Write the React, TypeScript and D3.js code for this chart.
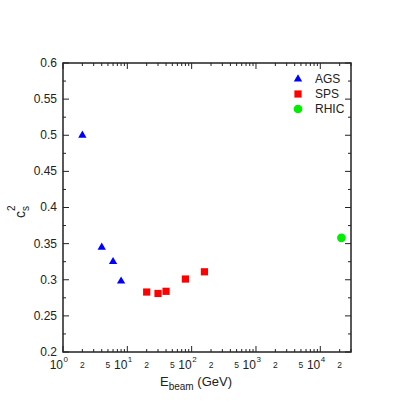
import React from 'react'
import * as d3 from 'd3'

// AGS, SPS and RHIC points
const agsE = [2, 4, 6, 8]
const agsCs2 = [0.5, 0.345, 0.325, 0.298]
const spsE = [20, 30, 40, 80, 158]
const spsCs2 = [0.283, 0.281, 0.284, 0.301, 0.311]
const rhicE = [21300]
const rhicCs2 = [0.358]

const yTicks = [0.2, 0.25, 0.3, 0.35, 0.4, 0.45, 0.5, 0.55, 0.6]
const yTickLabels = ['0.2', '0.25', '0.3', '0.35', '0.4', '0.45', '0.5', '0.55', '0.6']
const decades = [0, 1, 2, 3, 4]
const legendNames = ['AGS', 'SPS', 'RHIC']

const W = 415, H = 415
const left = 63, right = 351, top = 63, bottom = 352
const font = 'Liberation Sans, Arial, sans-serif'

export default function App() {
  const x = d3.scaleLog().domain([1, 30000]).range([left, right])
  const y = d3.scaleLinear().domain([0.2, 0.6]).range([bottom, top])

  const tri = d3.symbol().type(d3.symbolTriangle).size(30)()
  const sq = d3.symbol().type(d3.symbolSquare).size(52)()
  const circ = d3.symbol().type(d3.symbolCircle).size(60)()

  // log ticks: every 1..9 x 10^k inside the domain
  const xMinor: number[] = []
  decades.forEach(k => {
    for (let m = 1; m <= 9; m++) {
      const v = m * Math.pow(10, k)
      if (v >= 1 && v <= 30000) xMinor.push(v)
    }
  })
  const yMinor = d3.range(0.2, 0.6001, 0.025)

  const stroke = '#222'
  const ticks: JSX.Element[] = []
  xMinor.forEach((v, i) => {
    const major = Math.abs(Math.log10(v) - Math.round(Math.log10(v))) < 1e-9
    const len = major ? 6 : 3
    const px = x(v)
    ticks.push(<line key={'xb' + i} x1={px} x2={px} y1={bottom} y2={bottom - len} stroke={stroke} />)
    ticks.push(<line key={'xt' + i} x1={px} x2={px} y1={top} y2={top + len} stroke={stroke} />)
  })
  yMinor.forEach((v, i) => {
    const len = i % 2 === 0 ? 6 : 3
    const py = y(v)
    ticks.push(<line key={'yl' + i} x1={left} x2={left + len} y1={py} y2={py} stroke={stroke} />)
    ticks.push(<line key={'yr' + i} x1={right} x2={right - len} y1={py} y2={py} stroke={stroke} />)
  })

  const minorLabels: number[] = []
  decades.forEach(k => {
    ;[2, 5].forEach(m => {
      const v = m * Math.pow(10, k)
      if (v <= 30000) minorLabels.push(v)
    })
  })

  return (
    <svg width={W} height={H} style={{ position: 'absolute', left: 0, top: 0, background: '#fff' }} fontFamily={font}>
      <rect x={left} y={top} width={right - left} height={bottom - top} fill="none" stroke={stroke} strokeWidth={1.5} />
      {ticks}

      {yTicks.map((v, i) => (
        <text key={'yt' + i} x={left - 6} y={y(v)} dy="0.33em" textAnchor="end" fontSize={12} fill="#222">{yTickLabels[i]}</text>
      ))}

      {decades.map(k => (
        <g key={'dec' + k}>
          <text x={x(Math.pow(10, k))} y={369} textAnchor="end" fontSize={12} fill="#222">10</text>
          <text x={x(Math.pow(10, k)) + 0.5} y={362} fontSize={8} fill="#222">{k}</text>
        </g>
      ))}
      {minorLabels.map((v, i) => (
        <text key={'ml' + i} x={x(v)} y={368} textAnchor="middle" fontSize={8.5} fill="#222">{String(v).charAt(0)}</text>
      ))}

      <text x={160} y={386} fontSize={13} fill="#222">
        E<tspan fontSize={10} dy={4}>beam</tspan><tspan dy={-4}> (GeV)</tspan>
      </text>

      <text transform="translate(25,218) rotate(-90)" fontSize={14} fill="#222">
        c<tspan fontSize={10} dy={4}>s</tspan><tspan fontSize={10} dx={-5} dy={-14}>2</tspan>
      </text>

      {agsE.map((e, i) => (
        <path key={'a' + i} d={tri ?? ''} transform={`translate(${x(e)},${y(agsCs2[i])})`} fill="#0000ff" />
      ))}
      {spsE.map((e, i) => (
        <path key={'s' + i} d={sq ?? ''} transform={`translate(${x(e)},${y(spsCs2[i])})`} fill="#ff0000" />
      ))}
      {rhicE.map((e, i) => (
        <path key={'r' + i} d={circ ?? ''} transform={`translate(${x(e)},${y(rhicCs2[i])})`} fill="#00ee00" />
      ))}

      {legendNames.map((n, i) => {
        const ly = 79 + i * 15
        const d = i === 0 ? tri : i === 1 ? sq : circ
        const c = i === 0 ? '#0000ff' : i === 1 ? '#ff0000' : '#00ee00'
        return (
          <g key={'lg' + n}>
            <path d={d ?? ''} transform={`translate(298,${ly})`} fill={c} />
            <text x={315} y={ly} dy="0.35em" fontSize={12} fill="#222">{n}</text>
          </g>
        )
      })}
    </svg>
  )
}
